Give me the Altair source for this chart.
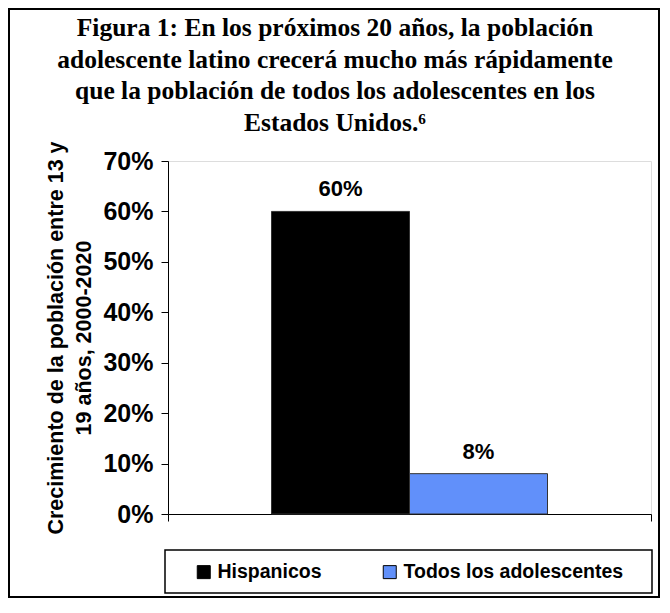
import altair as alt
import pandas as pd

# ---- data ----
series = ["Hispanicos", "Todos los adolescentes"]
growth = [0.60, 0.08]
value_labels = ["60%", "8%"]
group = ["2000-2020", "2000-2020"]
colors = ["#000000", "#6190fa"]
y_ticks = [0.0, 0.1, 0.2, 0.3, 0.4, 0.5, 0.6, 0.7]
title_lines = [
    "Figura 1: En los próximos 20 años, la población",
    "adolescente latino crecerá mucho más rápidamente",
    "que la población de todos los adolescentes en los",
    "Estados Unidos.⁶",
]
y_title_lines = ["Crecimiento de la población entre 13 y", "19 años, 2000-2020"]

df = pd.DataFrame({"grupo": group, "serie": series, "valor": growth, "etiqueta": value_labels})

W, H = 483, 353
SANS = "Liberation Sans"

x_enc = alt.X(
    "grupo:N",
    title=None,
    scale=alt.Scale(paddingInner=0, paddingOuter=0),
    axis=alt.Axis(labels=False, ticks=True, tickBand="extent", tickSize=7,
                  tickColor="black", domainColor="black", domainWidth=1),
)
xo_enc = alt.XOffset("serie:N", sort=series,
                     scale=alt.Scale(paddingInner=0, paddingOuter=0.75))
y_enc = alt.Y(
    "valor:Q",
    title=y_title_lines,
    scale=alt.Scale(domain=[0, 0.7]),
    axis=alt.Axis(values=y_ticks, format=".0%", grid=False, tickSize=7,
                  tickColor="black", domainColor="black", labelPadding=8,
                  labelFont=SANS, labelFontWeight="bold", labelFontSize=25,
                  labelColor="black", titleFont=SANS, titleFontWeight="bold",
                  titleFontSize=21.5, titleLineHeight=28, titleColor="black",
                  titlePadding=7),
)

color_enc = alt.Color(
    "serie:N",
    sort=series,
    scale=alt.Scale(domain=series, range=colors),
    legend=alt.Legend(
        title=None, orient="none", legendX=-3, legendY=389, direction="horizontal",
        strokeColor="transparent", fillColor="transparent", padding=12,
        symbolType="square", symbolSize=169, symbolStrokeColor="black",
        symbolStrokeWidth=1, symbolOffset=17, labelOffset=4, columnPadding=41,
        labelFont=SANS, labelFontWeight="bold", labelFontSize=19.5, labelColor="black",
        labelLimit=500,
    ),
)

bars = alt.Chart(df).mark_bar(stroke="#333333", strokeWidth=1).encode(
    x=x_enc, xOffset=xo_enc, y=y_enc, color=color_enc
)

texts = alt.Chart(df).mark_text(
    baseline="bottom", dy=-10, font=SANS, fontWeight="bold", fontSize=22, color="black"
).encode(x=x_enc, xOffset=xo_enc, y=y_enc, text="etiqueta:N")

frame = alt.Chart(alt.Data(values=[{"k": 1}])).mark_rect(
    fill="transparent", stroke="black", strokeWidth=2
).encode(x=alt.value(-159), x2=alt.value(491), y=alt.value(-152), y2=alt.value(436))

legend_box = alt.Chart(alt.Data(values=[{"k": 1}])).mark_rect(
    fill="transparent", stroke="black", strokeWidth=1.5
).encode(x=alt.value(-3), x2=alt.value(484), y=alt.value(389), y2=alt.value(432))

chart = alt.layer(bars, texts, frame, legend_box).properties(
    width=W,
    height=H,
    padding=0,
    title=alt.TitleParams(
        text=title_lines, font="Liberation Serif", fontWeight="bold", fontSize=25.5,
        lineHeight=31.5, color="black", anchor="middle", dx=-74.5, offset=-128,
    ),
).configure_view(stroke=None).configure(background="white")

chart.save("out.html", embed_options={"renderer": "svg", "actions": False})
